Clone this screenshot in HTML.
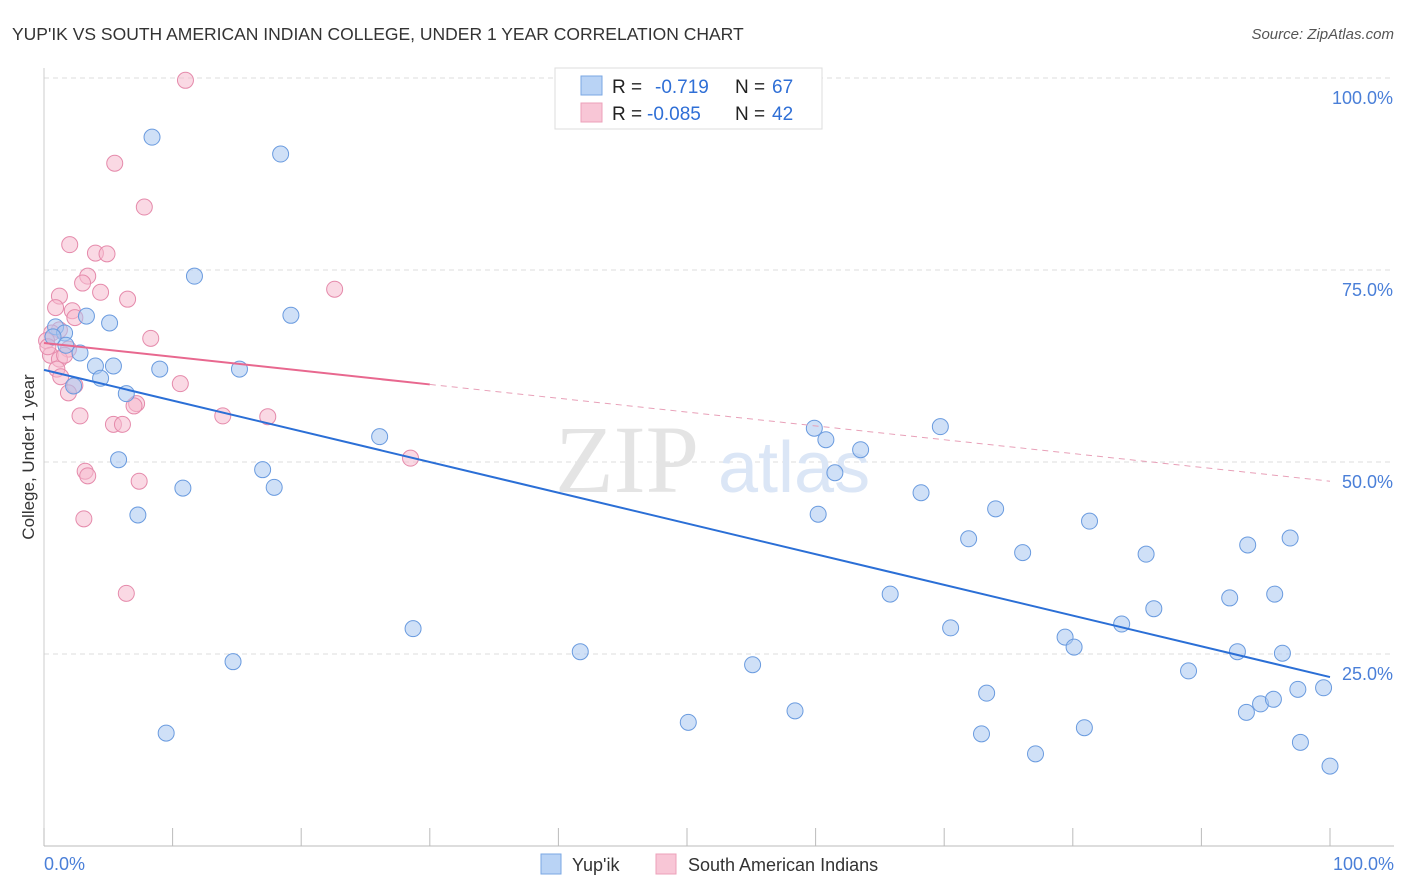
<!DOCTYPE html>
<html><head><meta charset="utf-8"><style>
body{margin:0;background:#fff;font-family:"Liberation Sans",sans-serif;}
#wrap{position:relative;width:1406px;height:892px;overflow:hidden;}
</style></head><body>
<div id="wrap">
<svg id="svg" width="1406" height="892"></svg>
</div>
<script>
const blueX=[0.9,1.6,1.7,2.8,3.3,4.0,4.4,5.1,5.4,6.4,5.8,7.3,8.4,9.0,9.5,10.8,11.7,14.7,15.2,17.0,17.9,18.4,19.2,26.1,28.7,41.7,50.1,55.1,58.4,59.9,60.2,60.8,61.5,63.5,65.8,68.2,69.7,70.5,71.9,73.3,72.9,74.0,76.1,77.1,79.4,80.1,80.9,81.3,83.8,85.7,86.3,89.0,92.2,92.8,93.6,93.5,94.6,95.6,95.7,96.3,96.9,97.5,97.7,99.5,100,0.7,2.3];
const blueY=[67.6,66.8,65.2,64.2,69.0,62.5,60.9,68.1,62.5,58.9,50.3,43.1,92.3,62.1,14.7,46.6,74.2,24.0,62.1,49.0,46.7,90.1,69.1,53.3,28.3,25.3,16.1,23.6,17.6,54.4,43.2,52.9,48.6,51.6,32.8,46.0,54.6,28.4,40.0,19.9,14.6,43.9,38.2,12.0,27.2,25.9,15.4,42.3,28.9,38.0,30.9,22.8,32.3,25.3,39.2,17.4,18.5,19.1,32.8,25.1,40.1,20.4,13.5,20.6,10.4,66.3,59.9];
const pinkX=[11.0,5.5,7.8,2.0,4.0,4.9,3.4,3.0,1.2,4.4,6.5,0.9,2.2,2.4,22.6,1.2,0.6,0.2,1.9,0.5,1.2,1.0,1.3,2.4,1.9,8.3,10.6,7.2,13.9,17.4,2.8,5.4,6.1,28.5,3.2,3.4,7.4,3.1,6.4,0.3,1.6,7.0];
const pinkY=[99.7,88.9,83.2,78.3,77.2,77.1,74.2,73.3,71.6,72.1,71.2,70.1,69.7,68.8,72.5,67.2,66.8,65.8,64.7,63.9,63.4,62.1,61.1,60.0,59.0,66.1,60.2,57.6,56.0,55.9,56.0,54.9,54.9,50.5,48.8,48.2,47.5,42.6,32.9,65.0,63.9,57.3];
const blueLine=[62.0,22.0];
const pinkLine=[65.5,47.5];
const yTicks=[25,50,75,100];
const xTicks=[0,10,20,30,40,50,60,70,80,90,100];

const NS="http://www.w3.org/2000/svg";
const svg=document.getElementById('svg');
const X=v=>44+v*12.86, Y=v=>846-v*7.68;
function mk(t,a,p){const e=document.createElementNS(NS,t);for(const k in a)e.setAttribute(k,a[k]);(p||svg).appendChild(e);return e;}

// title
let t=mk('text',{x:12,y:40,'font-size':17.5,fill:'#333'});t.textContent="YUP'IK VS SOUTH AMERICAN INDIAN COLLEGE, UNDER 1 YEAR CORRELATION CHART";


t=mk('text',{x:1394,y:39,'font-size':15,fill:'#555','text-anchor':'end','font-style':'italic'});t.textContent="Source: ZipAtlas.com";



// grid
yTicks.forEach(v=>{
 const l=mk('line',{x1:44,x2:1394,y1:Y(v),y2:Y(v),stroke:'#ddd','stroke-dasharray':'5,4'});
 
 
 const tx=mk('text',{x:1393,y:Y(v)+26,'font-size':18,fill:'#4a7fd8','text-anchor':'end'});tx.textContent=v.toFixed(1)+'%';
 
 
});
let ax=mk('line',{x1:44,x2:1394,y1:846,y2:846,stroke:'#bbb'});


ax=mk('line',{x1:44,x2:44,y1:68,y2:846,stroke:'#ccc'});


xTicks.forEach(v=>{const l=mk('line',{x1:X(v),x2:X(v),y1:828,y2:846,stroke:'#bbb'});
 
 });
t=mk('text',{x:44,y:870,'font-size':18,fill:'#4a7fd8'});t.textContent='0.0%';


t=mk('text',{x:1394,y:870,'font-size':18,fill:'#4a7fd8','text-anchor':'end'});t.textContent='100.0%';


t=mk('text',{x:34,y:457,'font-size':17,fill:'#333','text-anchor':'middle',transform:'rotate(-90 34 457)'});t.textContent='College, Under 1 year';



// watermark
t=mk('text',{x:555,y:492,'font-size':96,fill:'#e4e4e4','font-family':'Liberation Serif, serif'});t.textContent='ZIP';


t=mk('text',{x:718,y:492,'font-size':72,fill:'#dbe6f6'});t.textContent='atlas';



// points
function pts(xs,ys,fill,stroke,name){
 xs.forEach((x,i)=>{const c=mk('circle',{cx:X(x),cy:Y(ys[i]),r:8,fill:fill,'fill-opacity':0.55,stroke:stroke,'stroke-width':1});
 
 });
}
pts(pinkX,pinkY,'#f6b9cd','#e58aab','point-south-american-indians');
pts(blueX,blueY,'#a8c7f0','#6a9bdf','point-yupik');

// trend lines
let ln=mk('line',{x1:X(0),y1:Y(blueLine[0]),x2:X(100),y2:Y(blueLine[1]),stroke:'#2b6fd6','stroke-width':2});


const pm=x=>pinkLine[0]+(pinkLine[1]-pinkLine[0])*x/100;
ln=mk('line',{x1:X(0),y1:Y(pm(0)),x2:X(30),y2:Y(pm(30)),stroke:'#e8688f','stroke-width':2});


ln=mk('line',{x1:X(30),y1:Y(pm(30)),x2:X(100),y2:Y(pm(100)),stroke:'#e8a0b8','stroke-width':1,'stroke-dasharray':'6,5'});



// legend box
const lg=mk('g',{});


mk('rect',{x:555,y:68,width:267,height:61,fill:'#fff',stroke:'#ddd'},lg);
mk('rect',{x:581,y:76,width:21,height:19,fill:'#b9d3f5',stroke:'#7aa7e3'},lg);
mk('rect',{x:581,y:103,width:21,height:19,fill:'#f8c6d6',stroke:'#eca0ba'},lg);
[[93,'R = ','-0.719','67',655],[120,'R = ','-0.085','42',647]].forEach(r=>{
 let a=mk('text',{x:612,y:r[0],'font-size':19,fill:'#222'},lg);a.textContent=r[1];
 a=mk('text',{x:r[4],y:r[0],'font-size':19,fill:'#2f6fd6'},lg);a.textContent=r[2];
 a=mk('text',{x:735,y:r[0],'font-size':19,fill:'#222'},lg);a.textContent='N = ';
 a=mk('text',{x:772,y:r[0],'font-size':19,fill:'#2f6fd6'},lg);a.textContent=r[3];
});

// bottom legend
let g=mk('g',{});


mk('rect',{x:541,y:854,width:20,height:20,fill:'#b9d3f5',stroke:'#7aa7e3'},g);
t=mk('text',{x:572,y:871,'font-size':18,fill:'#333'},g);t.textContent="Yup'ik";
g=mk('g',{});


mk('rect',{x:656,y:854,width:20,height:20,fill:'#f8c6d6',stroke:'#eca0ba'},g);
t=mk('text',{x:688,y:871,'font-size':18,fill:'#333'},g);t.textContent="South American Indians";
</script>
</body></html>
